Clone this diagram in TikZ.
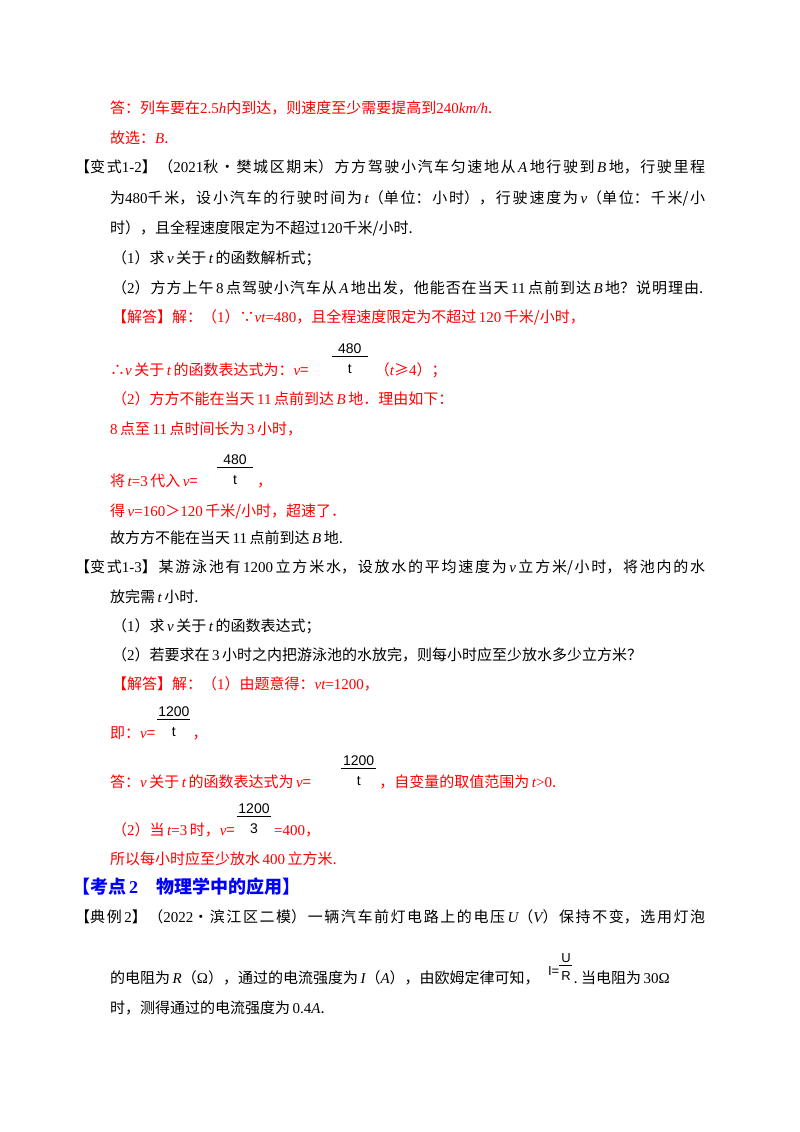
\documentclass[tikz,border=0pt]{standalone}
\usepackage{fontspec}
\setmainfont{Noto Sans CJK SC}
\newfontfamily\tms{Liberation Serif}
\newfontfamily\ars{Liberation Sans}
\newcommand{\mi}[1]{{\tms\itshape #1}}
\newcommand{\tr}[1]{{\tms #1}}
\definecolor{ansred}{RGB}{255,0,0}
\definecolor{hblue}{RGB}{0,0,255}
\XeTeXlinebreaklocale "zh"
\XeTeXlinebreakskip=0pt plus 4pt
\tikzset{
 ln/.style={anchor=base west,inner sep=0pt,font=\fontsize{15}{16}\selectfont},
 rd/.style={ln,text=ansred},
 jst/.style={ln,text width=#1,align=justify},
 fr/.style={anchor=base,inner sep=0pt,font=\ars\fontsize{14}{16}\selectfont},
 bar/.style={line width=0.6pt},
}
% #1 prev node, #2 gap, #3 width, #4 num, #5 den, #6 name
\newcommand{\frc}[6]{%
 \path (#1.base east) ++(#2,0) coordinate (#6s) ++(#3,0) coordinate (#6e);
 \path (#1.base east) ++(#2+#3/2,0) coordinate (#6m);
 \draw[bar] ([yshift=19pt]#6s) -- ([yshift=19pt]#6e);
 \node[fr] (#6n) at ([yshift=22pt]#6m) {#4};
 \node[fr] (#6d) at ([yshift=2pt]#6m) {#5};
}
\begin{document}
\begin{tikzpicture}[x=1pt,y=-1pt]
\useasboundingbox (0,0) rectangle (800,1132);
\fill[white] (0,0) rectangle (800,1132);
\node[rd] (l1) at (110,113) {答：列车要在\tr{2.5}\mi{h}内到达，则速度至少需要提高到\tr{240}\mi{km/h}.};
\node[rd] (l2) at (110,143) {故选：\mi{B}.};
\node[jst=630pt] (l3) at (75,172) {【变式\tr{1-2}】（\tr{2021}秋•樊城区期末）方方驾驶小汽车匀速地从\,\mi{A}\,地行驶到\,\mi{B}\,地，行驶里程\parfillskip=0pt\par};
\node[jst=595pt] (l4) at (110,203) {为\tr{480}千米，设小汽车的行驶时间为\,\mi{t}（单位：小时），行驶速度为\,\mi{v}（单位：千米/小\parfillskip=0pt\par};
\node[ln] (l5) at (110,233) {时），且全程速度限定为不超过\tr{120}千米/小时.};
\node[ln] (l6) at (112,263) {（\tr{1}）求\,\mi{v}\,关于\,\mi{t}\,的函数解析式；};
\node[jst=591pt] (l7) at (112,293) {（\tr{2}）方方上午\,\tr{8}\,点驾驶小汽车从\,\mi{A}\,地出发，他能否在当天\,\tr{11}\,点前到达\,\mi{B}\,地？说明理由.\parfillskip=0pt\par};
\node[rd] (l8) at (112,322) {【解答】解：（\tr{1}）∵\mi{vt}\tr{=480}，且全程速度限定为不超过\,\tr{120}\,千米/小时，};
\node[rd] (l9) at (110,375) {∴\mi{v}\,关于\,\mi{t}\,的函数表达式为：\mi{v}=};
\frc{l9}{23}{36}{480}{t}{f9}
\node[rd] (l9b) at ([xshift=7pt]f9e) {（\mi{t}≥\tr{4}）；};
\node[rd] (l10) at (112,404) {（\tr{2}）方方不能在当天\,\tr{11}\,点前到达\,\mi{B}\,地．理由如下：};
\node[rd] (l11) at (110,434) {\tr{8}\,点至\,\tr{11}\,点时间长为\,\tr{3}\,小时，};
\node[rd] (l12) at (110,486) {将\,\mi{t}\tr{=3}\,代入\,\mi{v}=};
\frc{l12}{19}{36}{480}{t}{f12}
\node[rd] (l12b) at ([xshift=4pt]f12e) {，};
\node[rd] (l13) at (110,516) {得\,\mi{v}\tr{=160}＞\tr{120}\,千米/小时，超速了．};
\node[ln] (l14) at (110,543) {故方方不能在当天\,\tr{11}\,点前到达\,\mi{B}\,地.};
\node[jst=630pt] (l15) at (75,572) {【变式\tr{1-3}】某游泳池有\,\tr{1200}\,立方米水，设放水的平均速度为\,\mi{v}\,立方米/小时，将池内的水\parfillskip=0pt\par};
\node[ln] (l16) at (110,602) {放完需\,\mi{t}\,小时.};
\node[ln] (l17) at (112,631) {（\tr{1}）求\,\mi{v}\,关于\,\mi{t}\,的函数表达式；};
\node[ln] (l18) at (112,660) {（\tr{2}）若要求在\,\tr{3}\,小时之内把游泳池的水放完，则每小时应至少放水多少立方米？};
\node[rd] (l19) at (112,689) {【解答】解：（\tr{1}）由题意得：\mi{vt}\tr{=1200}，};
\node[rd] (l20) at (110,738) {即：\mi{v}=};
\frc{l20}{2}{33}{1200}{t}{f20}
\node[rd] (l20b) at ([xshift=2pt]f20e) {，};
\node[rd] (l21) at (110,787) {答：\mi{v}\,关于\,\mi{t}\,的函数表达式为\,\mi{v}=};
\frc{l21}{30}{35}{1200}{t}{f21}
\node[rd] (l21c) at ([xshift=3pt]f21e) {，自变量的取值范围为\,\mi{t}\tr{>0}.};
\node[rd] (l22) at (112,835) {（\tr{2}）当\,\mi{t}\tr{=3}\,时，\mi{v}=};
\frc{l22}{2}{34}{1200}{3}{f22}
\node[rd] (l22b) at ([xshift=3pt]f22e) {\tr{=400}，};
\node[rd] (l23) at (110,864) {所以每小时应至少放水\,\tr{400}\,立方米.};
\node[ln,text=hblue,font=\fontsize{18}{20}\selectfont\bfseries] (l24) at (72,893) {【考点\,\tr{\bfseries 2}\quad 物理学中的应用】};
\node[jst=630pt] (l25) at (75,922) {【典例\,\tr{2}】（\tr{2022}•滨江区二模）一辆汽车前灯电路上的电压\,\mi{U}（\mi{V}）保持不变，选用灯泡\parfillskip=0pt\par};
\node[ln] (l26) at (110,983) {的电阻为\,\mi{R}（\tr{Ω}），通过的电流强度为\,\mi{I}（\mi{A}），由欧姆定律可知，};
\node[anchor=base west,inner sep=0pt,font=\ars\fontsize{13}{15}\selectfont] (ii) at ([xshift=8pt,yshift=8pt]l26.base east) {I=};
\path (ii.base east) ++(0,0) coordinate (us) ++(13,0) coordinate (ue);
\draw[bar] ([yshift=10pt]us) -- ([yshift=10pt]ue);
\node[fr,font=\ars\fontsize{13}{15}\selectfont] (uu) at ([xshift=6.5pt,yshift=13pt]us) {U};
\node[fr,font=\ars\fontsize{13}{15}\selectfont] (rr) at ([xshift=6.5pt,yshift=-5pt]us) {R};
\node[ln] (l26b) at ([xshift=1pt,yshift=-8pt]ue) {.\ 当电阻为\,\tr{30Ω}};
\node[ln] (l27) at (110,1013) {时，测得通过的电流强度为\,\tr{0.4}\mi{A}.};
\end{tikzpicture}
\end{document}
